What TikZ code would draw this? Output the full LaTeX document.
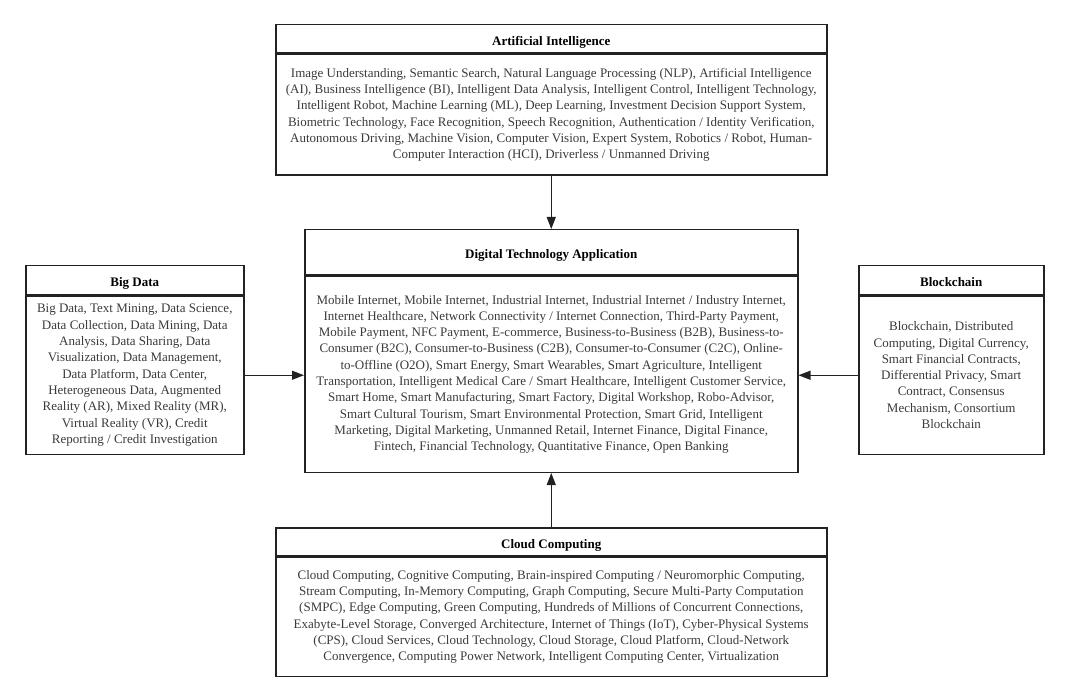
\documentclass[tikz,border=0pt]{standalone}
\usepackage{fontspec}
\setmainfont{Liberation Serif}
\usetikzlibrary{arrows.meta,positioning}
\definecolor{edge}{HTML}{222222}
\definecolor{bodytext}{HTML}{3A3A3A}
\tikzset{
  hdr/.style={draw=edge, line width=1.5pt, rectangle, inner sep=0pt, anchor=north west,
    text height=13.5pt, text depth=0pt,
    font=\fontsize{13}{15}\selectfont\bfseries, text=black},
  bdy/.style={draw=edge, line width=1.5pt, rectangle, inner sep=0pt, anchor=north, align=center,
    font=\fontsize{13}{16.3}\selectfont, text=bodytext},
  arr/.style={draw=edge, line width=1.2pt, -{Triangle[length=12pt,width=9pt]}}
}
\begin{document}
\begin{tikzpicture}[x=1pt,y=-1pt]
\useasboundingbox (0,0) rectangle (1068,700);

% Artificial Intelligence
\node[hdr, minimum width=551pt, minimum height=28pt] (aih) at (275,24) {Artificial Intelligence};
\node[bdy, minimum width=551pt, minimum height=121pt] (aib) at (aih.south) {Image Understanding, Semantic Search, Natural Language Processing (NLP), Artificial Intelligence\\
(AI), Business Intelligence (BI), Intelligent Data Analysis, Intelligent Control, Intelligent Technology,\\
Intelligent Robot, Machine Learning (ML), Deep Learning, Investment Decision Support System,\\
Biometric Technology, Face Recognition, Speech Recognition, Authentication / Identity Verification,\\
Autonomous Driving, Machine Vision, Computer Vision, Expert System, Robotics / Robot, Human-\\
Computer Interaction (HCI), Driverless / Unmanned Driving};

% Digital Technology Application
\node[hdr, minimum width=493pt, minimum height=45pt] (ctrh) at (304,229) {Digital Technology Application};
\node[bdy, minimum width=493pt, minimum height=196pt] (ctrb) at (ctrh.south) {Mobile Internet, Mobile Internet, Industrial Internet, Industrial Internet / Industry Internet,\\
Internet Healthcare, Network Connectivity / Internet Connection, Third-Party Payment,\\
Mobile Payment, NFC Payment, E-commerce, Business-to-Business (B2B), Business-to-\\
Consumer (B2C), Consumer-to-Business (C2B), Consumer-to-Consumer (C2C), Online-\\
to-Offline (O2O), Smart Energy, Smart Wearables, Smart Agriculture, Intelligent\\
Transportation, Intelligent Medical Care / Smart Healthcare, Intelligent Customer Service,\\
Smart Home, Smart Manufacturing, Smart Factory, Digital Workshop, Robo-Advisor,\\
Smart Cultural Tourism, Smart Environmental Protection, Smart Grid, Intelligent\\
Marketing, Digital Marketing, Unmanned Retail, Internet Finance, Digital Finance,\\
Fintech, Financial Technology, Quantitative Finance, Open Banking};

% Big Data
\node[hdr, minimum width=218pt, minimum height=29pt] (bdh) at (25,265) {Big Data};
\node[bdy, minimum width=218pt, minimum height=158pt] (bdb) at (bdh.south) {Big Data, Text Mining, Data Science,\\
Data Collection, Data Mining, Data\\
Analysis, Data Sharing, Data\\
Visualization, Data Management,\\
Data Platform, Data Center,\\
Heterogeneous Data, Augmented\\
Reality (AR), Mixed Reality (MR),\\
Virtual Reality (VR), Credit\\
Reporting / Credit Investigation};

% Blockchain
\node[hdr, minimum width=185pt, minimum height=29pt] (bch) at (858,265) {Blockchain};
\node[bdy, minimum width=185pt, minimum height=158pt] (bcb) at (bch.south) {Blockchain, Distributed\\
Computing, Digital Currency,\\
Smart Financial Contracts,\\
Differential Privacy, Smart\\
Contract, Consensus\\
Mechanism, Consortium\\
Blockchain};

% Cloud Computing
\node[hdr, minimum width=551pt, minimum height=28pt] (cch) at (275,527) {Cloud Computing};
\node[bdy, minimum width=551pt, minimum height=119pt] (ccb) at (cch.south) {Cloud Computing, Cognitive Computing, Brain-inspired Computing / Neuromorphic Computing,\\
Stream Computing, In-Memory Computing, Graph Computing, Secure Multi-Party Computation\\
(SMPC), Edge Computing, Green Computing, Hundreds of Millions of Concurrent Connections,\\
Exabyte-Level Storage, Converged Architecture, Internet of Things (IoT), Cyber-Physical Systems\\
(CPS), Cloud Services, Cloud Technology, Cloud Storage, Cloud Platform, Cloud-Network\\
Convergence, Computing Power Network, Intelligent Computing Center, Virtualization};

% Connectors
\draw[arr] (aib.south) -- (aib.south |- ctrh.north);
\draw[arr] (bdb.east) -- (bdb.east -| ctrb.west);
\draw[arr] (bcb.west) -- (bcb.west -| ctrb.east);
\draw[arr] (cch.north) -- (cch.north |- ctrb.south);
\end{tikzpicture}
\end{document}
